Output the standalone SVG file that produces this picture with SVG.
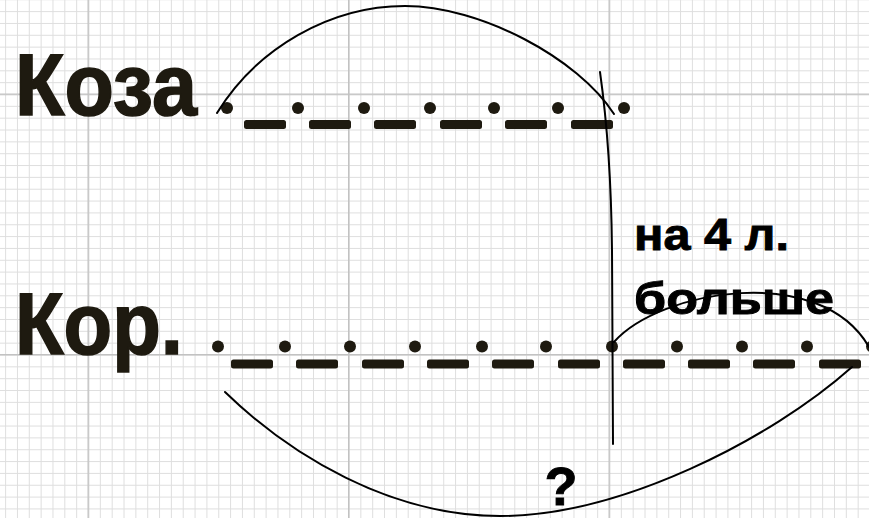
<svg xmlns="http://www.w3.org/2000/svg" width="869" height="518" viewBox="0 0 869 518">
  <defs>
    <pattern id="minor" patternUnits="userSpaceOnUse" x="5.114" y="11.114" width="11.841" height="11.841">
      <path d="M0.5,0 V11.841 M0,0.5 H11.841" stroke="#dedede" stroke-width="1" fill="none"/>
    </pattern>
    <pattern id="major" patternUnits="userSpaceOnUse" x="87.5" y="93.5" width="260.5" height="260.5">
      <path d="M0.75,0 V260.5 M0,0.75 H260.5" stroke="#c2c2c2" stroke-width="1.5" fill="none"/>
    </pattern>
  </defs>
  <style>
    .big { font-family: "Liberation Sans", Arial, sans-serif; font-weight: bold; font-size: 88px; fill: #1e1a10; stroke: #1e1a10; stroke-width: 1.6px; }
    .lbl { font-family: "Liberation Sans", Arial, sans-serif; font-weight: bold; font-size: 45px; fill: #000; stroke: #000; stroke-width: 0.9px; }
    .dot { fill: #1e1a10; }
    .dash { fill: #1e1a10; }
    .arc { fill: none; stroke: #000; stroke-width: 2; stroke-linecap: round; }
  </style>
  <rect width="869" height="518" fill="#ffffff"/>
  <rect width="869" height="518" fill="url(#minor)"/>
  <rect width="869" height="518" fill="url(#major)"/>

  <g id="koza-label">
    <text class="big" x="15" y="115" textLength="182" lengthAdjust="spacingAndGlyphs">Коза</text>
  </g>
  <g id="kor-label">
    <text class="big" x="15" y="354" textLength="168" lengthAdjust="spacingAndGlyphs">Кор.</text>
  </g>

  <g id="koza-segment">
    <circle class="dot" cx="227" cy="108" r="6"/>
    <circle class="dot" cx="298" cy="108" r="6"/>
    <circle class="dot" cx="364" cy="108" r="6"/>
    <circle class="dot" cx="430" cy="108" r="6"/>
    <circle class="dot" cx="494" cy="108" r="6"/>
    <circle class="dot" cx="558" cy="108" r="6"/>
    <circle class="dot" cx="624" cy="108" r="6"/>
    <rect class="dash" x="244" y="120" width="42" height="9" rx="2.5"/>
    <rect class="dash" x="309" y="120" width="42" height="9" rx="2.5"/>
    <rect class="dash" x="374" y="120" width="42" height="9" rx="2.5"/>
    <rect class="dash" x="440" y="120" width="42" height="9" rx="2.5"/>
    <rect class="dash" x="505" y="120" width="42" height="9" rx="2.5"/>
    <rect class="dash" x="571" y="120" width="42" height="9" rx="2.5"/>
  </g>

  <g id="kor-segment">
    <circle class="dot" cx="218" cy="346.5" r="6"/>
    <circle class="dot" cx="285" cy="346.5" r="6"/>
    <circle class="dot" cx="350" cy="346.5" r="6"/>
    <circle class="dot" cx="415" cy="346.5" r="6"/>
    <circle class="dot" cx="482" cy="346.5" r="6"/>
    <circle class="dot" cx="546" cy="346.5" r="6"/>
    <circle class="dot" cx="612" cy="346.5" r="6"/>
    <circle class="dot" cx="677" cy="346.5" r="6"/>
    <circle class="dot" cx="742" cy="346.5" r="6"/>
    <circle class="dot" cx="807" cy="346.5" r="6"/>
    <circle class="dot" cx="872" cy="346.5" r="6"/>
    <rect class="dash" x="231" y="359.5" width="42" height="9" rx="2.5"/>
    <rect class="dash" x="296" y="359.5" width="42" height="9" rx="2.5"/>
    <rect class="dash" x="362" y="359.5" width="42" height="9" rx="2.5"/>
    <rect class="dash" x="427" y="359.5" width="42" height="9" rx="2.5"/>
    <rect class="dash" x="492" y="359.5" width="42" height="9" rx="2.5"/>
    <rect class="dash" x="558" y="359.5" width="42" height="9" rx="2.5"/>
    <rect class="dash" x="623" y="359.5" width="42" height="9" rx="2.5"/>
    <rect class="dash" x="688" y="359.5" width="42" height="9" rx="2.5"/>
    <rect class="dash" x="753" y="359.5" width="42" height="9" rx="2.5"/>
    <rect class="dash" x="819" y="359.5" width="42" height="9" rx="2.5"/>
  </g>

  <g id="label-na4">
    <text class="lbl" x="634" y="250" textLength="155" lengthAdjust="spacingAndGlyphs">на 4 л.</text>
    <text class="lbl" x="634" y="314" textLength="200" lengthAdjust="spacingAndGlyphs">больше</text>
  </g>
  <g id="label-question">
    <text class="lbl" x="561" y="505" text-anchor="middle" style="font-size:54px">?</text>
  </g>

  <g id="connectors">
    <path class="arc" d="M217,113 C257,48 330,6 405,6 C480,6 578,58 614,114"/>
    <path class="arc" d="M600,72 Q611,150 612,250 L613,444"/>
    <path class="arc" d="M614,342 C660,290 820,262 869,347"/>
    <path class="arc" d="M225,392 C290,455 390,516 500,516 C620,516 770,440 852,367"/>
  </g>
</svg>
